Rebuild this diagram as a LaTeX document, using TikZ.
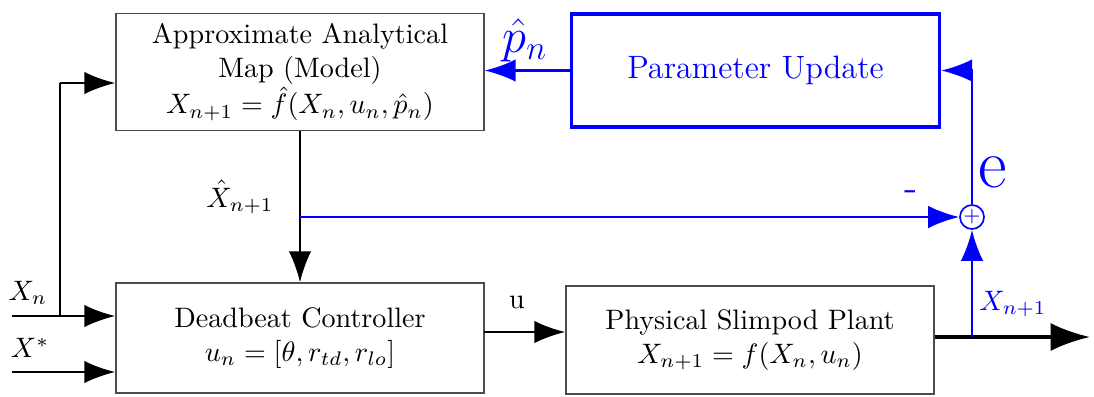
\documentclass[tikz,border=0pt]{standalone}
\usetikzlibrary{arrows.meta,positioning}

\begin{document}
\begin{tikzpicture}[
    x=0.0125cm, y=-0.0125cm,
    line width=0.8pt,
    >={Latex[length=11pt,width=8pt]},
    block/.style={draw=black!70, line width=0.5pt, minimum width=4.6cm, minimum height=1.375cm, align=center},
    blueblock/.style={draw=blue, line width=1.2pt, text=blue, minimum width=4.6cm, minimum height=1.41cm, font=\fontsize{11.5}{14}\selectfont},
    sigline/.style={blue}
  ]
    \useasboundingbox (0,0) rectangle (1094,396);

    % 1. Blocks
    \node[block] (model) at (300,72) {Approximate Analytical\\Map (Model)\\$X_{n+1}=\hat{f}(X_n,u_n,\hat{p}_n)$};
    \node[blueblock] (update) at (755.5,70.5) {Parameter Update};
    \node[block] (ctrl) at (300,338) {Deadbeat Controller\\$u_n=[\theta,r_{td},r_{lo}]$};
    \node[block, minimum height=1.35cm] (plant) at (750,340) {Physical Slimpod Plant\\$X_{n+1}=f(X_n,u_n)$};
    \node[draw=blue, circle, inner sep=0pt, minimum size=0.3cm, line width=0.6pt, text=blue, font=\scriptsize] (sum) at (972,217) {$+$};

    % 2. Coordinates
    \coordinate (xn) at (12,316);
    \coordinate (xs) at (12,372);
    \coordinate (split) at (60,316);
    \coordinate (mapin) at (60,83);
    \coordinate (uline) at (484,332);
    \coordinate (tap) at (300,217);
    \coordinate (out) at (1090,337);
    \coordinate (ptap) at (972,337);

    % 3. Black connectors
    \draw[->] (model) -- (ctrl);
    \draw[->] (xn) -- (xn -| ctrl.west);
    \draw (split) -- (mapin);
    \draw[->] (mapin) -- (mapin -| model.west);
    \draw[->] (xs) -- (xs -| ctrl.west);
    \draw[->] (uline) -- (uline -| plant.west);
    \draw[-{Latex[length=14pt,width=10pt]}, line width=1.3pt] (out -| plant.east) -- (out);

    % 4. Blue connectors
    \draw[sigline,->] (tap) -- (sum.west);
    \draw[sigline,->] (ptap) -- (sum.south);
    \draw[sigline,->] (sum.north) |- (update.east);
    \draw[sigline,->] (update.west) -- (update.west -| model.east);

    % 5. Labels
    \node[blue, font=\LARGE] (phat) at (525,40) {$\hat{p}_n$};
    \node[blue, font=\Huge] (elabel) at (993,172) {e};
    \node[blue, font=\Large] (minus) at (911,196) {-};
    \node (xhat) at (240,197) {$\hat{X}_{n+1}$};
    \node (xnlab) at (28,293) {$X_n$};
    \node (xslab) at (30,348) {$X^*$};
    \node (ulab) at (517,302) {u};
    \node[blue] (xplab) at (1013,304) {$X_{n+1}$};

  \end{tikzpicture}
\end{document}
